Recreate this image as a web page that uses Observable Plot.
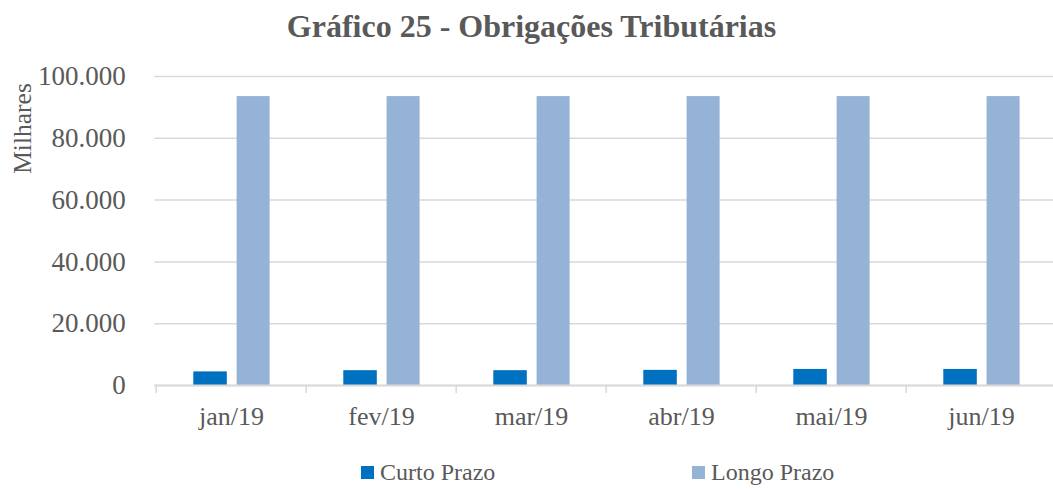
<!DOCTYPE html>
<html>
<head>
<meta charset="utf-8">
<script src="https://cdn.jsdelivr.net/npm/d3@7"></script>
<script src="https://cdn.jsdelivr.net/npm/@observablehq/plot@0.6"></script>
<style>
  html, body { margin: 0; padding: 0; background: #fff; overflow: hidden; }
  #wrap { position: relative; width: 1053px; height: 489px; font-family: "Liberation Serif", "DejaVu Serif", serif; color: #595959; }
  #title { position: absolute; left: 0; width: 1063px; top: 6px; text-align: center; font-size: 32px; font-weight: bold; line-height: 40px; }
  #chart { position: absolute; left: 0; top: 0; }
  .leg { position: absolute; top: 458px; display: flex; align-items: center; font-size: 24px; line-height: 28px; }
  .sw { width: 13px; height: 13px; margin-right: 6px; }
  #chart svg, #chart svg text { font-family: "Liberation Serif", "DejaVu Serif", serif !important; }
</style>
</head>
<body>
<div id="wrap">
  <div id="title">Gráfico 25 - Obrigações Tributárias</div>
  <div id="chart"></div>
</div>
<script>
const months = ["jan/19", "fev/19", "mar/19", "abr/19", "mai/19", "jun/19"];
const seriesNames = ["Curto Prazo", "Longo Prazo"];
const seriesColors = ["#0070C0", "#95B3D7"];
const curtoPrazo = [4400, 4800, 4800, 4900, 5200, 5200];
const longoPrazo = [93500, 93500, 93500, 93500, 93500, 93500];
const yTicks = [0, 20000, 40000, 60000, 80000, 100000];
const yLabel = "Milhares";

const ptBR = d3.formatLocale({decimal: ",", thousands: ".", grouping: [3], currency: ["R$", ""]});
const fmt = ptBR.format(",.0f");

const curtoData = months.map((m, i) => ({month: m, value: curtoPrazo[i]}));
const longoData = months.map((m, i) => ({month: m, value: longoPrazo[i]}));

const plot = Plot.plot({
  width: 1053,
  height: 440,
  marginTop: 76,
  marginBottom: 55,
  marginLeft: 154.3,
  marginRight: -5.5,
  style: {fontFamily: "'Liberation Serif', 'DejaVu Serif', serif", fontSize: "24px", color: "#595959", background: "transparent"},
  x: {domain: months, padding: 0, label: null},
  y: {domain: [0, 100000], label: null},
  marks: [
    Plot.gridY(yTicks, {stroke: "#d9d9d9", strokeOpacity: 1, strokeWidth: 1.5}),
    Plot.barY(curtoData, {x: "month", y: "value", fill: seriesColors[0], insetLeft: 37.3, insetRight: 79.2}),
    Plot.barY(longoData, {x: "month", y: "value", fill: seriesColors[1], insetLeft: 80.6, insetRight: 36.4}),
    Plot.ruleY([0], {stroke: "#d9d9d9", strokeWidth: 2}),
    Plot.axisY(yTicks, {tickSize: 0, tickPadding: 29, tickFormat: fmt, fill: "#595959", fontSize: 27, label: null}),
    Plot.axisX({tickSize: 8, tickFormat: () => "", dx: -75.3, stroke: "#d9d9d9", strokeWidth: 1.5, label: null}),
    Plot.axisX({tickSize: 0, tickPadding: 21.5, fill: "#595959", fontSize: 26, label: null}),
    Plot.text([yLabel], {frameAnchor: "top-left", textAnchor: "middle", lineAnchor: "middle", rotate: -90, dx: -132, dy: 52, fill: "#595959", fontSize: 25.5})
  ]
});
document.getElementById("chart").appendChild(plot);

const wrap = document.getElementById("wrap");
const legLeft = [361, 692];
seriesNames.forEach((name, i) => {
  const item = document.createElement("div");
  item.className = "leg";
  item.style.left = legLeft[i] + "px";
  const sw = document.createElement("div");
  sw.className = "sw";
  sw.style.background = seriesColors[i];
  const t = document.createElement("span");
  t.textContent = name;
  item.appendChild(sw);
  item.appendChild(t);
  wrap.appendChild(item);
});
</script>
</body>
</html>
